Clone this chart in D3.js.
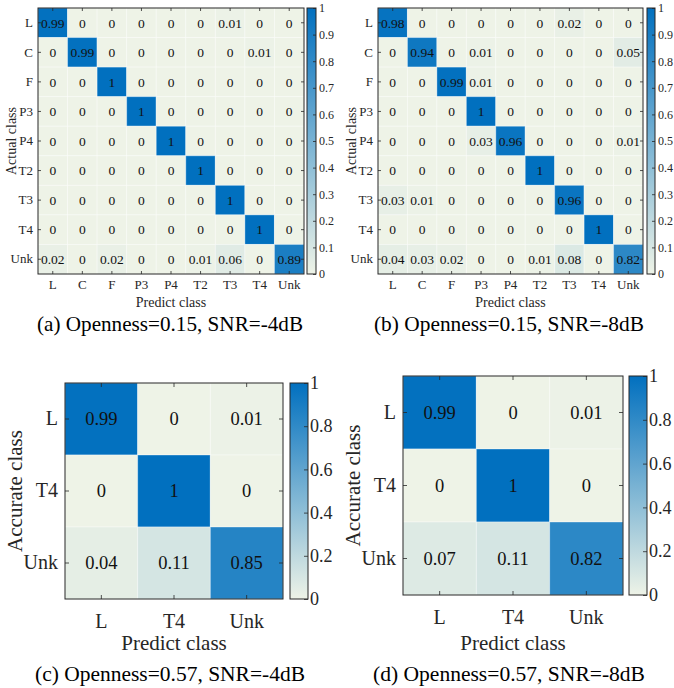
<!DOCTYPE html>
<html>
<head>
<meta charset="utf-8">
<script src="https://cdn.jsdelivr.net/npm/d3@7"></script>
<style>
  body { margin: 0; background: #fff; }
  text { font-family: "Liberation Serif", "Times New Roman", serif; }
</style>
</head>
<body>
<script>
// class names
var classesBig = ['L', 'C', 'F', 'P3', 'P4', 'T2', 'T3', 'T4', 'Unk'];
var classesSmall = ['L', 'T4', 'Unk'];

// confusion matrices (rows = actual, cols = predicted)
var matrixA = [
  [0.99, 0, 0, 0, 0, 0, 0.01, 0, 0],
  [0, 0.99, 0, 0, 0, 0, 0, 0.01, 0],
  [0, 0, 1, 0, 0, 0, 0, 0, 0],
  [0, 0, 0, 1, 0, 0, 0, 0, 0],
  [0, 0, 0, 0, 1, 0, 0, 0, 0],
  [0, 0, 0, 0, 0, 1, 0, 0, 0],
  [0, 0, 0, 0, 0, 0, 1, 0, 0],
  [0, 0, 0, 0, 0, 0, 0, 1, 0],
  [0.02, 0, 0.02, 0, 0, 0.01, 0.06, 0, 0.89]
];
var matrixB = [
  [0.98, 0, 0, 0, 0, 0, 0.02, 0, 0],
  [0, 0.94, 0, 0.01, 0, 0, 0, 0, 0.05],
  [0, 0, 0.99, 0.01, 0, 0, 0, 0, 0],
  [0, 0, 0, 1, 0, 0, 0, 0, 0],
  [0, 0, 0, 0.03, 0.96, 0, 0, 0, 0.01],
  [0, 0, 0, 0, 0, 1, 0, 0, 0],
  [0.03, 0.01, 0, 0, 0, 0, 0.96, 0, 0],
  [0, 0, 0, 0, 0, 0, 0, 1, 0],
  [0.04, 0.03, 0.02, 0, 0, 0.01, 0.08, 0, 0.82]
];
var matrixC = [
  [0.99, 0, 0.01],
  [0, 1, 0],
  [0.04, 0.11, 0.85]
];
var matrixD = [
  [0.99, 0, 0.01],
  [0, 1, 0],
  [0.07, 0.11, 0.82]
];

var cbTicksBig = [0, 0.1, 0.2, 0.3, 0.4, 0.5, 0.6, 0.7, 0.8, 0.9, 1];
var cbTicksSmall = [0, 0.2, 0.4, 0.6, 0.8, 1];

var captions = [
  '(a) Openness=0.15, SNR=-4dB',
  '(b) Openness=0.15, SNR=-8dB',
  '(c) Openness=0.57, SNR=-4dB',
  '(d) Openness=0.57, SNR=-8dB'
];

var color = d3.scaleLinear().domain([0, 1]).range(['#eef3e7', '#0170bf']);
var ink = '#262626';

var svg = d3.select('body').append('svg')
  .attr('width', 674)
  .attr('height', 688);

var defs = svg.append('defs');
var grad = defs.append('linearGradient')
  .attr('id', 'cbgrad')
  .attr('x1', 0).attr('y1', 1).attr('x2', 0).attr('y2', 0);
d3.range(0, 1.0001, 0.1).forEach(function(t) {
  grad.append('stop').attr('offset', t).attr('stop-color', color(t));
});

function drawPanel(p) {
  var g = svg.append('g');
  var x = d3.scaleBand().domain(p.classes).range([p.x0, p.x1]);
  var y = d3.scaleBand().domain(p.classes).range([p.y0, p.y1]);

  var cells = [];
  p.matrix.forEach(function(row, i) {
    row.forEach(function(v, j) {
      cells.push({ r: p.classes[i], c: p.classes[j], v: v });
    });
  });

  g.append('g').selectAll('rect').data(cells).enter()
    .append('rect')
    .attr('x', function(d) { return x(d.c); })
    .attr('y', function(d) { return y(d.r); })
    .attr('width', x.bandwidth())
    .attr('height', y.bandwidth())
    .attr('fill', function(d) { return color(d.v); })
    .attr('stroke', 'rgba(255,255,255,0.35)')
    .attr('stroke-width', 1);

  g.append('g').selectAll('text').data(cells).enter()
    .append('text')
    .attr('x', function(d) { return x(d.c) + x.bandwidth() / 2; })
    .attr('y', function(d) { return y(d.r) + y.bandwidth() / 2; })
    .attr('dy', '0.35em')
    .attr('text-anchor', 'middle')
    .attr('font-size', p.cellFont + 'px')
    .attr('fill', '#111')
    .text(function(d) { return String(d.v); });

  // axes, ticks pointing inward like matlab
  var left = g.append('g').attr('transform', 'translate(' + p.x0 + ',0)')
    .call(d3.axisLeft(y).tickSizeInner(-p.tick).tickSizeOuter(0).tickPadding(p.pad));
  var bottom = g.append('g').attr('transform', 'translate(0,' + p.y1 + ')')
    .call(d3.axisBottom(x).tickSizeInner(-p.tick).tickSizeOuter(0).tickPadding(p.padX));
  g.append('g').attr('transform', 'translate(0,' + p.y0 + ')')
    .call(d3.axisTop(x).tickSizeInner(-p.tick).tickSizeOuter(0).tickFormat(''));
  g.append('g').attr('transform', 'translate(' + p.x1 + ',0)')
    .call(d3.axisRight(y).tickSizeInner(-p.tick).tickSizeOuter(0).tickFormat(''));

  [left, bottom].forEach(function(a) {
    a.selectAll('text')
      .attr('font-size', p.tickFont + 'px')
      .attr('fill', ink);
  });
  g.selectAll('.domain').attr('stroke', 'none');
  g.selectAll('.tick line').attr('stroke', ink).attr('stroke-width', 0.8);

  g.append('rect')
    .attr('x', p.x0).attr('y', p.y0)
    .attr('width', p.x1 - p.x0).attr('height', p.y1 - p.y0)
    .attr('fill', 'none')
    .attr('stroke', ink)
    .attr('stroke-width', 1);

  // colorbar
  var cb = d3.scaleLinear().domain([0, 1]).range([p.y1, p.y0]);
  g.append('rect')
    .attr('x', p.cb0).attr('y', p.y0)
    .attr('width', p.cb1 - p.cb0).attr('height', p.y1 - p.y0)
    .attr('fill', 'url(#cbgrad)')
    .attr('stroke', ink)
    .attr('stroke-width', 1);
  var cbAxis = g.append('g').attr('transform', 'translate(' + p.cb1 + ',0)')
    .call(d3.axisRight(cb).tickValues(p.cbTicks).tickFormat(d3.format('~g'))
      .tickSizeInner(-p.tick).tickSizeOuter(0).tickPadding(p.cbPad));
  cbAxis.select('.domain').attr('stroke', 'none');
  cbAxis.selectAll('.tick line').attr('stroke', ink).attr('stroke-width', 0.8);
  cbAxis.selectAll('text')
    .attr('font-size', p.cbFont + 'px')
    .attr('fill', ink);

  // labels
  g.append('text')
    .attr('x', (p.x0 + p.x1) / 2)
    .attr('y', p.xlabY)
    .attr('text-anchor', 'middle')
    .attr('font-size', p.labFont + 'px')
    .attr('fill', ink)
    .text('Predict class');
  g.append('text')
    .attr('transform', 'translate(' + p.ylabX + ',' + ((p.y0 + p.y1) / 2) + ') rotate(-90)')
    .attr('text-anchor', 'middle')
    .attr('font-size', p.labFont + 'px')
    .attr('fill', ink)
    .text(p.ylab);
  g.append('text')
    .attr('x', p.capX - p.capW / 2)
    .attr('y', p.capY)
    .attr('font-size', p.capFont + 'px')
    .attr('textLength', p.capW)
    .attr('lengthAdjust', 'spacingAndGlyphs')
    .attr('fill', '#000')
    .text(p.caption);
}

drawPanel({
  classes: classesBig, matrix: matrixA, caption: captions[0], ylab: 'Actual class',
  x0: 38, x1: 304, y0: 8, y1: 274, cb0: 307, cb1: 316, cbTicks: cbTicksBig,
  tick: 3, pad: 5, padX: 6, cbPad: 3,
  cellFont: 13.5, tickFont: 13, cbFont: 12, labFont: 14, capFont: 22,
  xlabY: 307, ylabX: 16, capX: 170, capW: 266, capY: 331
});
drawPanel({
  classes: classesBig, matrix: matrixB, caption: captions[1], ylab: 'Actual class',
  x0: 378, x1: 643, y0: 8, y1: 274, cb0: 647, cb1: 655, cbTicks: cbTicksBig,
  tick: 3, pad: 5, padX: 6, cbPad: 3,
  cellFont: 13.5, tickFont: 13, cbFont: 12, labFont: 14, capFont: 22,
  xlabY: 307, ylabX: 356, capX: 509, capW: 270, capY: 331
});
drawPanel({
  classes: classesSmall, matrix: matrixC, caption: captions[2], ylab: 'Accurate class',
  x0: 65, x1: 283, y0: 383, y1: 599, cb0: 290, cb1: 308, cbTicks: cbTicksSmall,
  tick: 4, pad: 7, padX: 15, cbPad: 2,
  cellFont: 18.5, tickFont: 20, cbFont: 18, labFont: 21, capFont: 22,
  xlabY: 650, ylabX: 22, capX: 170, capW: 270, capY: 681
});
drawPanel({
  classes: classesSmall, matrix: matrixD, caption: captions[3], ylab: 'Accurate class',
  x0: 403, x1: 623, y0: 376, y1: 595, cb0: 629, cb1: 647, cbTicks: cbTicksSmall,
  tick: 4, pad: 7, padX: 15, cbPad: 2,
  cellFont: 18.5, tickFont: 20, cbFont: 18, labFont: 21, capFont: 22,
  xlabY: 650, ylabX: 360, capX: 509, capW: 272, capY: 681
});
</script>
</body>
</html>
